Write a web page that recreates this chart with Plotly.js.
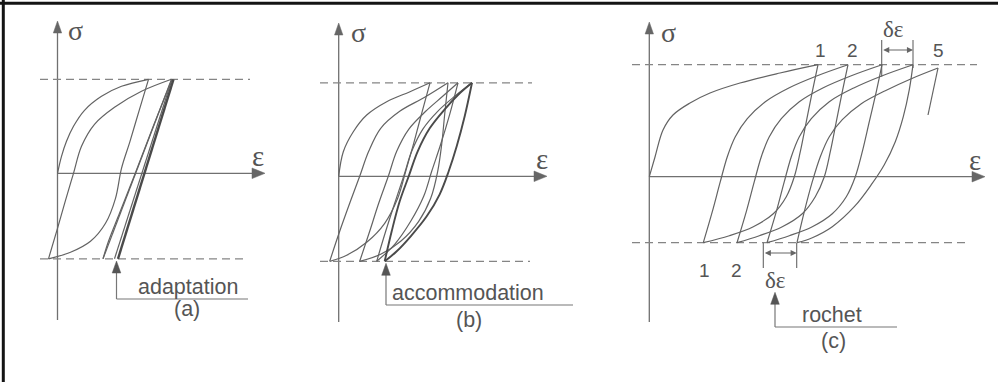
<!DOCTYPE html>
<html>
<head>
<meta charset="utf-8">
<script src="https://cdn.plot.ly/plotly-3.0.1.min.js"></script>
<style>html,body{margin:0;padding:0;background:#fff;}#chart{width:998px;height:382px;}</style>
</head>
<body>
<div id="chart"></div>
<script>
// ---------- DATA (ε, σ, local units of each panel) ----------
// Panel (a) adaptation
const aLoadEps    = [0, 4, 9, 16, 27, 44, 64, 91];
const aLoadSig    = [0, 17, 32, 47, 63, 77, 87, 94];
const aUnload1Eps = [91, 82, 72.5, 64, 58, 48, 33, 13, -9];
const aUnload1Sig = [94, 64, 32, 5, -25, -50, -68, -79, -85.5];
const aReload1Eps = [-9, 0, 8, 16, 24, 37, 57, 84, 114];
const aReload1Sig = [-85.5, -55, -27, 0, 27, 49, 66, 82, 94];
const aUnload2Eps = [114, 45.5];
const aUnload2Sig = [94, -85.5];
const aReload2Eps = [45.5, 51, 62, 77, 95, 114.5];
const aReload2Sig = [-85.5, -68, -40, -2, 45, 94];
const aUnload3Eps = [114.5, 57];
const aUnload3Sig = [94, -85.5];
const aStableEps  = [60.5, 116];
const aStableSig  = [-85.5, 94];
const aSigMax = 94, aSigMin = -85.5;

// Panel (b) accommodation
const bLoadEps    = [0, 4.6, 14.6, 28, 48, 71.3, 91.3];
const bLoadSig    = [0, 24.6, 44.6, 61.3, 74.6, 84.6, 93.5];
const bUnload1Eps = [91.3, 83, 75, 67, 59, 46, 28, 8, -9];
const bUnload1Sig = [93.5, 63, 33, 5, -22, -47, -66, -79, -85];
const bReload1Eps = [-9, 1, 11, 21, 30, 42, 61, 86, 109.3];
const bReload1Sig = [-85, -55, -27, 0, 25, 48, 65, 79, 93.5];
const bUnload2Eps = [109.3, 106, 103, 99, 92, 80, 62, 42, 21];
const bUnload2Sig = [93.5, 62, 32, 5, -22, -45, -65, -78, -85];
const bReload2Eps = [21, 31, 40, 49.6, 58, 70, 87, 104, 119.3];
const bReload2Sig = [-85, -55, -27, 0, 25, 47, 65, 80, 93.5];
const bUnload3Eps = [119.3, 111, 102, 93, 85, 72, 56, 38];
const bUnload3Sig = [93.5, 62, 32, 5, -20, -45, -68, -85];
const bReload3Eps = [38, 47, 56, 65, 73, 84, 99, 116, 133.3];
const bReload3Sig = [-85, -55, -27, 0, 25, 47, 65, 80, 93.5];
const bUnload4Eps = [133.3, 126, 118, 110, 101, 88, 72, 58, 46];
const bUnload4Sig = [93.5, 60, 30, 5, -18, -40, -60, -75, -85];
const bReload4Eps = [46, 53, 61, 70, 79, 91, 106, 120, 133.3];
const bReload4Sig = [-85, -55, -25, 0, 25, 48, 67, 82, 93.5];
const bSigMax = 93.5, bSigMin = -85;

// Panel (c) rochet (ratchetting)
const cLoadEps    = [0, 5.7, 13.7, 23.7, 40.7, 60.7, 90.7, 130.7, 168.7];
const cLoadSig    = [0, 19.7, 46.7, 61.7, 73.7, 83.7, 93.7, 103.7, 112];
const cUnload1Eps = [168.7, 163, 157, 151, 145, 137, 124, 104, 80, 54];
const cUnload1Sig = [112, 85, 55, 25, 0, -20, -37, -50, -59, -66];
const cReload1Eps = [54, 63, 71, 78, 86, 98, 116, 140, 168, 198.7];
const cReload1Sig = [-66, -35, -5, 20, 40, 58, 75, 89, 101, 112];
const cUnload2Eps = [198.7, 193, 187, 181, 175, 166, 153, 133, 110, 87.7];
const cUnload2Sig = [112, 85, 55, 25, 0, -20, -37, -50, -59, -66];
const cReload2Eps = [87.7, 97, 105, 112, 120, 132, 150, 174, 202, 232.7];
const cReload2Sig = [-66, -35, -5, 20, 40, 58, 75, 89, 101, 112];
const cUnload3Eps = [232.7, 227, 220, 213, 206, 197, 183, 163, 140, 117.7];
const cUnload3Sig = [112, 85, 55, 25, 0, -20, -37, -50, -59, -66];
const cReload3Eps = [117.7, 127, 135, 142, 150, 162, 180, 205, 233, 263.7];
const cReload3Sig = [-66, -35, -5, 20, 40, 58, 75, 89, 101, 112];
const cUnload4Eps = [263.7, 260, 254, 246, 235, 222, 205, 183, 163, 147.7];
const cUnload4Sig = [112, 87, 60, 35, 12, -8, -30, -50, -61, -66];
const cReload4Eps = [147.7, 155, 163, 171, 180, 193, 212, 236, 262, 288.7];
const cReload4Sig = [-66, -35, -5, 20, 40, 57, 73, 86, 98, 108.7];
const cTailEps = [288.7, 278.7];
const cTailSig = [108.7, 61.7];
const cSigMax = 112, cSigMin = -66;
const cTopLabels = ['1', '2', '5'];
const cTopLabelEps = [170.7, 203.2, 288.7];
const cBotLabels = ['1', '2'];
const cBotLabelEps = [54.7, 86.7];
const cDeltaTopEps = [232.4, 263.7];
const cDeltaBotEps = [114, 147.4];

const panelNames = ['adaptation', 'accommodation', 'rochet'];
const panelTags = ['(a)', '(b)', '(c)'];

// ---------- LAYOUT HELPERS ----------
const W = 998, H = 382;
const origins = [{x0: 57.5, y0: 173.3}, {x0: 338.7, y0: 176.3}, {x0: 649.3, y0: 176.7}];
const curveCol = '#636363', axisCol = '#707070', dashCol = '#858585', textCol = '#555555';
const greek = 'Liberation Serif, DejaVu Serif, serif';
const sans = 'Liberation Sans, Arial, sans-serif';

const traces = [];
function branch(p, xs, ys, w) {
  traces.push({
    type: 'scatter', mode: 'lines', x: xs, y: ys,
    xaxis: p === 0 ? 'x' : 'x' + (p + 1), yaxis: p === 0 ? 'y' : 'y' + (p + 1),
    line: {color: w > 1.5 ? '#4a4a4a' : curveCol, width: w || 1.2, shape: 'spline', smoothing: 1},
    hoverinfo: 'skip', showlegend: false
  });
}
// panel a
branch(0, aLoadEps, aLoadSig);
branch(0, aUnload1Eps, aUnload1Sig);
branch(0, aReload1Eps, aReload1Sig);
branch(0, aUnload2Eps, aUnload2Sig);
branch(0, aReload2Eps, aReload2Sig);
branch(0, aUnload3Eps, aUnload3Sig);
branch(0, aStableEps, aStableSig, 2.4);
// panel b
branch(1, bLoadEps, bLoadSig);
branch(1, bUnload1Eps, bUnload1Sig);
branch(1, bReload1Eps, bReload1Sig);
branch(1, bUnload2Eps, bUnload2Sig);
branch(1, bReload2Eps, bReload2Sig);
branch(1, bUnload3Eps, bUnload3Sig);
branch(1, bReload3Eps, bReload3Sig);
branch(1, bUnload4Eps, bUnload4Sig, 1.9);
branch(1, bReload4Eps, bReload4Sig, 1.9);
// panel c
branch(2, cLoadEps, cLoadSig);
branch(2, cUnload1Eps, cUnload1Sig);
branch(2, cReload1Eps, cReload1Sig);
branch(2, cUnload2Eps, cUnload2Sig);
branch(2, cReload2Eps, cReload2Sig);
branch(2, cUnload3Eps, cUnload3Sig);
branch(2, cReload3Eps, cReload3Sig);
branch(2, cUnload4Eps, cUnload4Sig);
branch(2, cReload4Eps, cReload4Sig);
branch(2, cTailEps, cTailSig);

const shapes = [], annotations = [];
function refs(p) { return p === 0 ? {xref: 'x', yref: 'y'} : {xref: 'x' + (p + 1), yref: 'y' + (p + 1)}; }
function line(p, x0, y0, x1, y1, col, w, dash) {
  shapes.push(Object.assign({type: 'line', x0, y0, x1, y1, line: {color: col, width: w, dash: dash || 'solid'}, layer: 'below'}, refs(p)));
}
function tri(p, pts, col) {
  const d = 'M' + pts.map(q => q[0] + ',' + q[1]).join(' L') + ' Z';
  shapes.push(Object.assign({type: 'path', path: d, fillcolor: col, line: {color: col, width: 0.5}}, refs(p)));
}
function text(p, x, y, t, size, fam) {
  annotations.push(Object.assign({x, y, text: t, showarrow: false, xanchor: 'center', yanchor: 'middle',
    font: {family: fam, size, color: textCol}}, refs(p)));
}
function dbl(p, xa, xb, y) {
  const r = refs(p);
  annotations.push({x: xb, y, ax: xa, ay: y, xref: r.xref, yref: r.yref, axref: r.xref, ayref: r.yref,
    text: '', showarrow: true, arrowside: 'end+start', arrowhead: 2, arrowsize: 1.1, arrowwidth: 1.1,
    arrowcolor: '#666', standoff: 0, startstandoff: 0});
}

// per-panel axis geometry (local units)
const axGeom = [
  {sBot: -146.7, sTop: 152.3, eTip: 207.5, dL: -17.5, dR: 192.5, dRb: 189.5, smax: aSigMax, smin: aSigMin,
   sigLab: [18, 142.8], epsLab: [200.5, 17], arrX: 59, arrTip: -87.7, arrBase: -125.7, arrEnd: 190.5,
   nameXY: [130, -113.7], tagXY: [129, -135.7]},
  {sBot: -145.7, sTop: 153.3, eTip: 208.3, dL: -18.7, dR: 193.3, dRb: 191.3, smax: bSigMax, smin: bSigMin,
   sigLab: [19.5, 143.8], epsLab: [203.5, 17], arrX: 47.3, arrTip: -87, arrBase: -128.7, arrEnd: 234.3,
   nameXY: [129.3, -116.7], tagXY: [129.8, -143.7]},
  {sBot: -145.3, sTop: 154.7, eTip: 335.7, dL: -17.3, dR: 327.7, dRb: 315.7, smax: cSigMax, smin: cSigMin,
   sigLab: [19.5, 144.5], epsLab: [325.7, 17], arrX: 125.7, arrTip: -115.6, arrBase: -150.3, arrEnd: 247.7,
   nameXY: [182.4, -138.3], tagXY: [184, -164.3]}
];
axGeom.forEach((g, p) => {
  line(p, 0, g.sBot, 0, g.sTop - 12, axisCol, 1.3);
  tri(p, [[-4.2, g.sTop - 12], [4.2, g.sTop - 12], [0, g.sTop]], '#666');
  line(p, 0, 0, g.eTip - 12, 0, axisCol, 1.3);
  tri(p, [[g.eTip - 13, 5.3], [g.eTip - 13, -5.3], [g.eTip, 0]], '#666');
  line(p, g.dL, g.smax, g.dR, g.smax, dashCol, 1.2, '8px,5px');
  line(p, g.dL, g.smin, g.dRb, g.smin, dashCol, 1.2, '8px,5px');
  text(p, g.sigLab[0], g.sigLab[1], 'σ', 28, greek);
  text(p, g.epsLab[0], g.epsLab[1], 'ε', 29, greek);
  // pointer arrow under the chart
  line(p, g.arrX, g.arrTip - 11, g.arrX, g.arrBase, '#777', 1.2);
  line(p, g.arrX, g.arrBase, g.arrEnd, g.arrBase, '#777', 1.2);
  tri(p, [[g.arrX - 4.3, g.arrTip - 12], [g.arrX + 4.3, g.arrTip - 12], [g.arrX, g.arrTip]], '#555');
  text(p, g.nameXY[0], g.nameXY[1], panelNames[p], 21.5, sans);
  text(p, g.tagXY[0], g.tagXY[1], panelTags[p], 21.5, sans);
});

// panel c extras: cycle numbers and δε markers
cTopLabels.forEach((t, i) => text(2, cTopLabelEps[i], 126.3, t, 19, sans));
cBotLabels.forEach((t, i) => text(2, cBotLabelEps[i], -93.3, t, 19, sans));
line(2, cDeltaTopEps[0], 136.7, cDeltaTopEps[0], 100, '#666', 1.1);
line(2, cDeltaTopEps[1], 136.7, cDeltaTopEps[1], 108.7, '#666', 1.1);
dbl(2, cDeltaTopEps[0], cDeltaTopEps[1], 126.7);
text(2, (cDeltaTopEps[0] + cDeltaTopEps[1]) / 2 - 3.5, 147.2, 'δε', 23, greek);
line(2, cDeltaBotEps[0], -66, cDeltaBotEps[0], -91.3, '#666', 1.1);
line(2, cDeltaBotEps[1], -66, cDeltaBotEps[1], -91.3, '#666', 1.1);
dbl(2, cDeltaBotEps[0], cDeltaBotEps[1], -76.3);
text(2, (cDeltaBotEps[0] + cDeltaBotEps[1]) / 2 - 4.5, -103.8, 'δε', 23, greek);

// frame (top and left edges of the scanned figure)
shapes.push({type: 'line', xref: 'paper', yref: 'paper', x0: 0, x1: 1, y0: 1 - 3.3 / H, y1: 1 - 3.3 / H, line: {color: '#141414', width: 3}});
shapes.push({type: 'line', xref: 'paper', yref: 'paper', x0: 3.3 / W, x1: 3.3 / W, y0: 0, y1: 1, line: {color: '#141414', width: 3}});

const layout = {width: W, height: H, margin: {l: 0, r: 0, t: 0, b: 0},
  paper_bgcolor: '#ffffff', plot_bgcolor: 'rgba(0,0,0,0)', showlegend: false,
  shapes, annotations};
origins.forEach((o, p) => {
  const xk = p === 0 ? 'xaxis' : 'xaxis' + (p + 1);
  const yk = p === 0 ? 'yaxis' : 'yaxis' + (p + 1);
  const xa = {domain: [0, 1], range: [-o.x0, W - o.x0], visible: false, fixedrange: true};
  const ya = {domain: [0, 1], range: [o.y0 - H, o.y0], visible: false, fixedrange: true};
  if (p > 0) {
    xa.overlaying = 'x'; xa.anchor = 'y' + (p + 1);
    ya.overlaying = 'y'; ya.anchor = 'x' + (p + 1);
  }
  layout[xk] = xa; layout[yk] = ya;
});

Plotly.newPlot('chart', traces, layout, {displayModeBar: false, staticPlot: true});
</script>
</body>
</html>
